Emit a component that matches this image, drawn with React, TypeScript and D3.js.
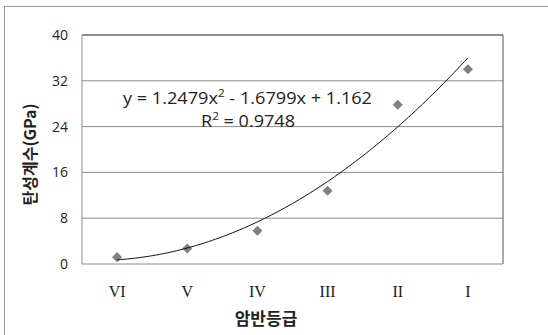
import React from "react";
import * as d3 from "d3";

const grades = ["VI", "V", "IV", "III", "II", "I"];
const modulus = [1.2, 2.7, 5.8, 12.8, 27.8, 34.0];
const yTicks = [0, 8, 16, 24, 32, 40];
const fitCoef = [1.2479, -1.6799, 1.162];
const equationText = "y = 1.2479x";
const equationRest = " - 1.6799x + 1.162";

const W = 548;
const H = 335;
const plot = { left: 82, right: 503, top: 35, bottom: 264 };
const sans = "'Open Sans', 'Liberation Sans', sans-serif";

export default function App() {
  const x = d3
    .scaleBand<string>()
    .domain(grades)
    .range([plot.left, plot.right]);
  const cx = (g: string) => (x(g) ?? 0) + x.bandwidth() / 2;
  const y = d3.scaleLinear().domain([0, 40]).range([plot.bottom, plot.top]);

  // trendline: evaluated with index 1..6 as x
  const xi = d3.scaleLinear().domain([1, grades.length]).range([cx(grades[0]), cx(grades[grades.length - 1])]);
  const fitPts = d3.range(1, grades.length + 0.001, 0.05).map((t) => [
    xi(t),
    y(fitCoef[0] * t * t + fitCoef[1] * t + fitCoef[2]),
  ] as [number, number]);
  const line = d3.line().curve(d3.curveLinear);

  const diamond = d3.symbol().type(d3.symbolDiamond2).size(64);

  return (
    <svg width={W} height={H} style={{ position: "absolute", left: 0, top: 0 }}>
      <rect x={0} y={0} width={W} height={H} fill="#fff" />
      <rect x={4.5} y={6.5} width={W + 10} height={H + 10} fill="none" stroke="#9a9a9a" />
      {yTicks.map((t) => (
        <g key={t}>
          {t > 0 && t < 40 && (
            <line x1={plot.left} x2={plot.right} y1={y(t)} y2={y(t)} stroke="#8c8c8c" strokeWidth={1} />
          )}
          <text
            x={68}
            y={y(t)}
            dy="0.36em"
            textAnchor="end"
            fontFamily={sans}
            fontSize={14}
            fill="#222"
          >
            {t}
          </text>
        </g>
      ))}
      <line x1={plot.left} x2={plot.right} y1={plot.top} y2={plot.top} stroke="#222" />
      <line x1={plot.right} x2={plot.right} y1={plot.top} y2={plot.bottom} stroke="#555" />
      <line x1={plot.left} x2={plot.left} y1={plot.top} y2={plot.bottom} stroke="#8c8c8c" />
      <line x1={plot.left} x2={plot.right} y1={plot.bottom} y2={plot.bottom} stroke="#8c8c8c" />

      {grades.map((g, i) => (
        <g key={g}>
          <path d={diamond() ?? ""} transform={`translate(${cx(g)},${y(modulus[i])})`} fill="#808080" />
          <text
            x={cx(g)}
            y={297}
            textAnchor="middle"
            fontFamily="'Liberation Serif', serif"
            fontSize={16}
            fill="#222"
          >
            {g}
          </text>
        </g>
      ))}

      <path d={line(fitPts) ?? ""} fill="none" stroke="#111" strokeWidth={1} />

      <text
        x={123}
        y={104}
        textLength={249}
        lengthAdjust="spacingAndGlyphs"
        fontFamily={sans}
        fontSize={17}
        fill="#222"
      >
        {equationText}
        <tspan dy={-7} fontSize={11}>2</tspan>
        <tspan dy={7}>{equationRest}</tspan>
      </text>
      <text
        x={201}
        y={127}
        textLength={94}
        lengthAdjust="spacingAndGlyphs"
        fontFamily={sans}
        fontSize={17}
        fill="#222"
      >
        R<tspan dy={-7} fontSize={11}>2</tspan>
        <tspan dy={7}> = 0.9748</tspan>
      </text>

      <text
        transform={`translate(36,${(plot.top + plot.bottom) / 2 + 5}) rotate(-90)`}
        textAnchor="middle"
        fontFamily="'Noto Sans CJK KR', sans-serif"
        fontWeight="bold"
        fontSize={16}
        fill="#222"
      >
        탄성계수(GPa)
      </text>
      <text
        x={266}
        y={325}
        textAnchor="middle"
        fontFamily="'Noto Sans CJK KR', sans-serif"
        fontWeight="bold"
        fontSize={17}
        fill="#222"
      >
        암반등급
      </text>
    </svg>
  );
}
